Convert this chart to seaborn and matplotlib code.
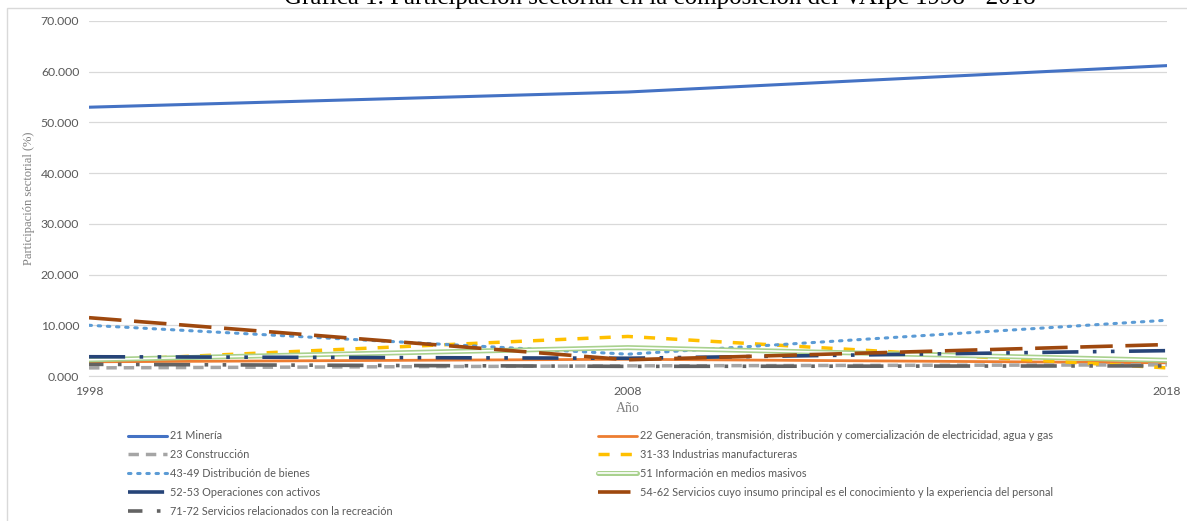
import matplotlib
matplotlib.use("Agg")
import matplotlib.pyplot as plt
import matplotlib.patheffects as pe
from matplotlib.patches import Rectangle
import seaborn as sns

# datos
years = [1998, 2008, 2018]
mineria = [53.0, 56.0, 61.2]
generacion = [2.8, 3.3, 2.6]
construccion = [1.6, 2.0, 2.2]
manufactura = [3.0, 7.8, 1.6]
distribucion = [10.0, 4.3, 11.0]
informacion = [3.2, 5.6, 3.1]
operaciones = [3.8, 3.5, 5.0]
servicios = [11.5, 3.2, 6.2]
recreacion = [2.3, 1.9, 2.0]

labels = [
    "21 Minería",
    "22 Generación, transmisión, distribución y comercialización de electricidad, agua y gas",
    "23 Construcción",
    "31-33 Industrias manufactureras",
    "43-49 Distribución de bienes",
    "51 Información en medios masivos",
    "52-53 Operaciones con activos",
    "54-62 Servicios cuyo insumo principal es el conocimiento y la experiencia del personal",
    "71-72 Servicios relacionados con la recreación",
]
values = [mineria, generacion, construccion, manufactura, distribucion,
          informacion, operaciones, servicios, recreacion]

styles = [
    dict(color="#4472C4", lw=2.2, ls="-"),
    dict(color="#ED7D31", lw=2.0, ls="-"),
    dict(color="#A5A5A5", lw=2.5, ls=(0, (3, 2))),
    dict(color="#FFC000", lw=2.5, ls=(0, (3.2, 3.2))),
    dict(color="#5B9BD5", lw=2.2, ls=(0, (0.8, 2.2)), dash_capstyle="round"),
    dict(color="white", lw=1.2, ls="-",
         path_effects=[pe.Stroke(linewidth=3.6, foreground="#A9D18E"), pe.Normal()]),
    dict(color="#264478", lw=2.6, ls=(0, (10, 4, 1, 4, 1, 4))),
    dict(color="#9E480E", lw=2.6, ls=(0, (9, 3.5))),
    dict(color="#636363", lw=2.6, ls=(6, (10, 4, 1, 4, 1, 4))),
]

sns.set_style("white")
plt.rcParams["font.family"] = ["Lato", "DejaVu Sans"]

fig = plt.figure(figsize=(11.87, 5.21), dpi=100)
ax = fig.add_axes([0.075, 0.2783, 0.908, 0.6814])

lines = []
for lab, vals, st in zip(labels, values, styles):
    st = dict(st)
    sns.lineplot(x=years, y=vals, ax=ax, label=lab, legend=False,
                 color=st.pop("color"), linewidth=st.pop("lw"),
                 linestyle=st.pop("ls"), **st)
    lines.append(ax.lines[-1])

ax.set_xlim(1998, 2018)
ax.set_ylim(0, 70)
ax.set_yticks(range(0, 71, 10))
ax.set_yticklabels([f"{v:.3f}" for v in range(0, 71, 10)])
ax.set_xticks(years)
ax.grid(axis="y", color="#D9D9D9", lw=0.9)
ax.set_axisbelow(True)
for s in ["top", "right", "left"]:
    ax.spines[s].set_visible(False)
ax.spines["bottom"].set_color("#D9D9D9")
ax.tick_params(axis="both", length=0, labelsize=8.8, labelcolor="#595959")
ax.tick_params(axis="y", pad=7)
ax.tick_params(axis="x", pad=7)

ax.set_xlabel("Año", family="Liberation Serif", fontsize=10, color="#808080", labelpad=4)
ax.set_ylabel("Participación sectorial (%)", family="Liberation Serif", fontsize=9,
              color="#808080", labelpad=4)

# marco del área del gráfico
fig.patches.append(Rectangle((7 / 1187, -0.01), 1.02, 1 - 8 / 521 + 0.01,
                             transform=fig.transFigure, fill=False,
                             edgecolor="#D9D9D9", lw=1.0))

fig.text(0.556, 1.004, "Gráfica 1. Participación sectorial en la composición del VAIpc 1998 - 2018",
         ha="center", va="center", family="Liberation Serif", fontsize=18, color="black")

left = [lines[i] for i in [0, 2, 4, 6, 8]]
right = [lines[i] for i in [1, 3, 5, 7]]
leg_kw = dict(frameon=False, fontsize=7.8, labelcolor="#595959", handlelength=3.6,
              handletextpad=0.3, labelspacing=0.72, borderpad=0, borderaxespad=0,
              loc="upper left")
fig.legend(left, [l.get_label() for l in left], bbox_to_anchor=(0.108, 0.174), **leg_kw)
fig.legend(right, [l.get_label() for l in right], bbox_to_anchor=(0.504, 0.174), **leg_kw)

fig.savefig("out.png", dpi=100)
